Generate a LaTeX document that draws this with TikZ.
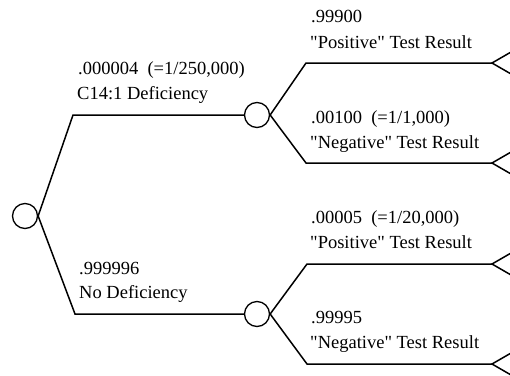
\documentclass[tikz,border=0pt]{standalone}
\usepackage{fontspec}
\setmainfont{Liberation Serif}[Ligatures=TeXOff]
\usetikzlibrary{calc}
\begin{document}
\begin{tikzpicture}[x=1pt,y=-1pt,
  chance/.style={draw,circle,line width=1.3pt,minimum size=25pt,inner sep=0pt},
  branch/.style={line width=1.5pt},
  lbl/.style={anchor=base west,inner sep=0pt,font=\fontsize{18.5}{22}\selectfont}]
\clip (0,0) rectangle (510,375);
\useasboundingbox (0,0) rectangle (510,375);

% chance nodes
\node[chance] (root) at (25,216) {};
\node[chance] (c1) at (257,115) {};
\node[chance] (c2) at (257,314) {};

% bend points and terminal tips
\coordinate (b1) at (73,115);
\coordinate (b2) at (75,314);
\coordinate (b11) at (306,63);
\coordinate (b12) at (306,163);
\coordinate (b21) at (307,264);
\coordinate (b22) at (307,364);
\coordinate (t11) at (492,63);
\coordinate (t12) at (492,163);
\coordinate (t21) at (492,264);
\coordinate (t22) at (492,364);

% first-stage branches
\draw[branch] (root.east) -- (b1) -- (c1.west);
\draw[branch] (root.east) -- (b2) -- (c2.west);

% second-stage branches
\draw[branch] (c1.east) -- (b11) -- (t11);
\draw[branch] (c1.east) -- (b12) -- (t12);
\draw[branch] (c2.east) -- (b21) -- (t21);
\draw[branch] (c2.east) -- (b22) -- (t22);

% terminal triangles
\foreach \t in {t11,t12,t21,t22}
  \draw[branch,line join=miter] ($(\t)+(26,-15)$) -- (\t) -- ($(\t)+(26,15)$);

% labels
\node[lbl] (l1a) at (78,74) {.000004\ \ (=1/250,000)};
\node[lbl] (l1b) at (77,99) {C14:1 Deficiency};
\node[lbl] (l2a) at (79,274) {.999996};
\node[lbl] (l2b) at (79,298) {No Deficiency};

\node[lbl] (l11a) at (311,22) {.99900};
\node[lbl] (l11b) at (310,48) {"Positive" Test Result};
\node[lbl] (l12a) at (311,123) {.00100\ \ (=1/1,000)};
\node[lbl] (l12b) at (310,148) {"Negative" Test Result};
\node[lbl] (l21a) at (311,223) {.00005\ \ (=1/20,000)};
\node[lbl] (l21b) at (310,248) {"Positive" Test Result};
\node[lbl] (l22a) at (311,323) {.99995};
\node[lbl] (l22b) at (310,348) {"Negative" Test Result};
\end{tikzpicture}
\end{document}
